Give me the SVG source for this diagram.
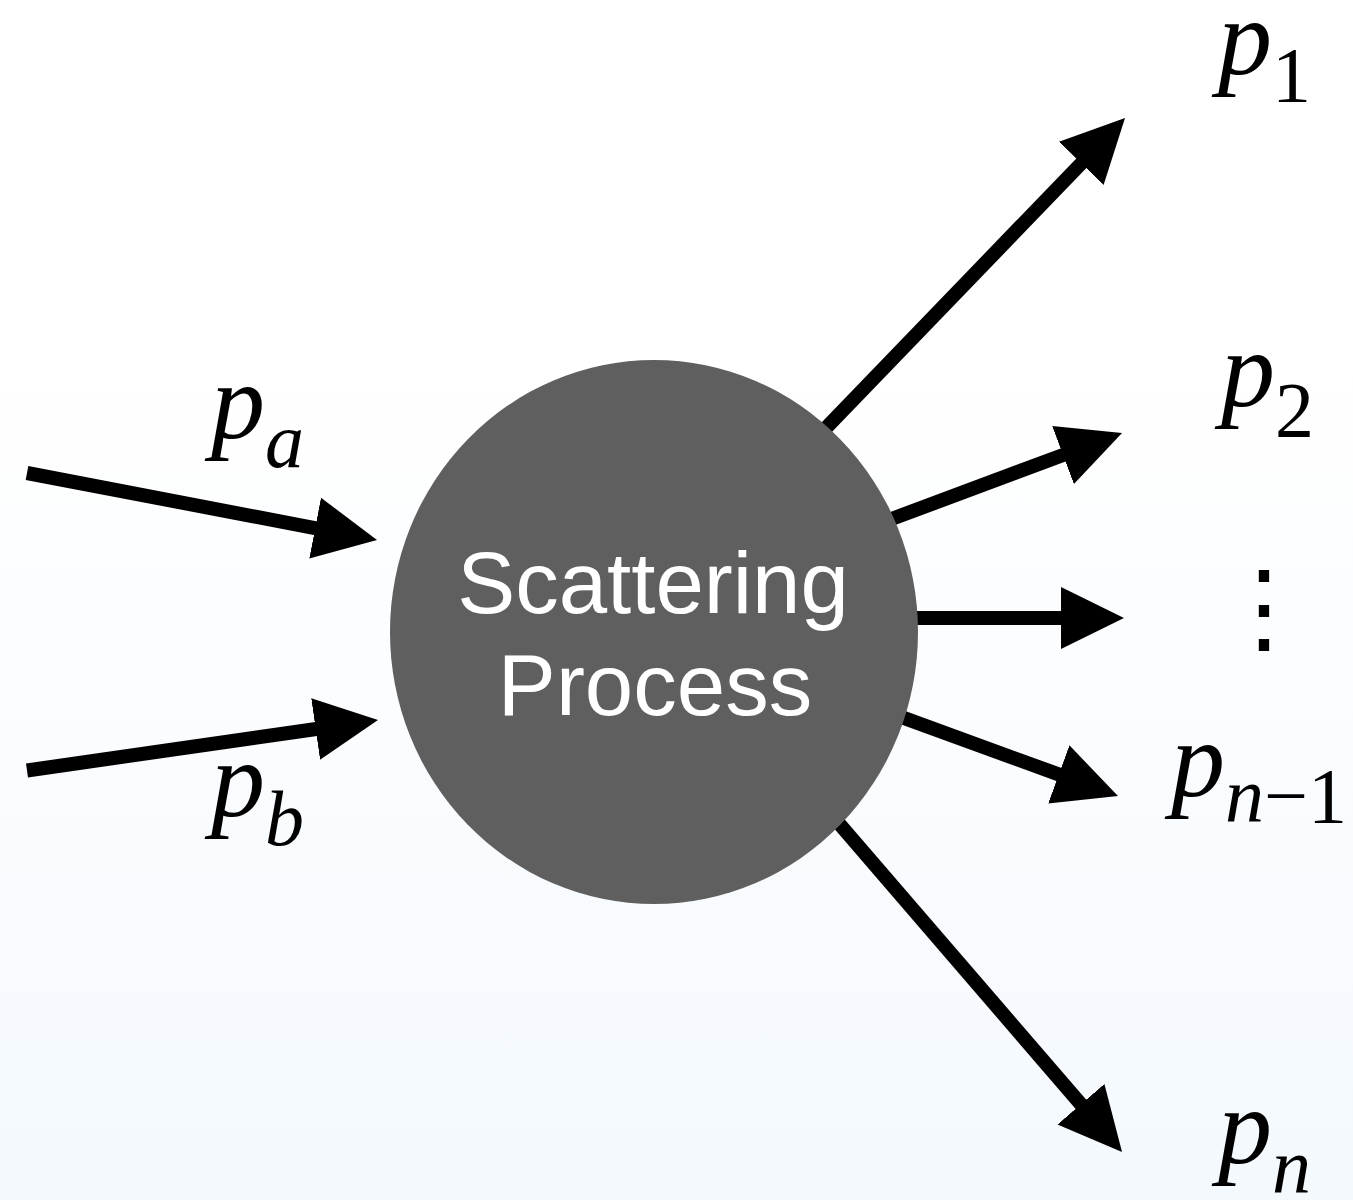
<svg xmlns="http://www.w3.org/2000/svg" width="1353" height="1200" viewBox="0 0 1353 1200">
  <defs>
    <linearGradient id="bg" x1="0" y1="0" x2="0" y2="1">
      <stop offset="0" stop-color="#ffffff"/>
      <stop offset="0.3" stop-color="#ffffff"/>
      <stop offset="1" stop-color="#f4f9fe"/>
    </linearGradient>
    <marker id="head" viewBox="0 0 63 62" refX="13" refY="31" markerWidth="63" markerHeight="62" markerUnits="userSpaceOnUse" orient="auto">
      <path d="M0,0 L63,31 L0,62 Z" fill="#000"/>
    </marker>
    <style>
      .arrow { stroke: #000; stroke-width: 14; fill: none; marker-end: url(#head); }
      .lbl { font-family: "Liberation Serif", "Times New Roman", serif; font-style: italic; font-size: 108px; fill: #000; }
      .sub { font-size: 78px; }
      .num { font-style: normal; }
      .node-text { font-family: "Liberation Sans", Arial, Helvetica, sans-serif; font-size: 87px; fill: #ffffff; text-anchor: middle; }
    </style>
  </defs>
  <rect x="0" y="0" width="1353" height="1200" fill="url(#bg)"/>

  <g id="connectors">
    <line class="arrow" x1="27" y1="473" x2="327.9" y2="530.6"/>
    <line class="arrow" x1="27" y1="770.5" x2="328.5" y2="727.2"/>
    <line class="arrow" x1="808" y1="446.6" x2="1090.3" y2="154"/>
    <line class="arrow" x1="866" y1="528.5" x2="1075.2" y2="450.5"/>
    <line class="arrow" x1="890" y1="618" x2="1074" y2="618"/>
    <line class="arrow" x1="872.8" y1="706.7" x2="1071" y2="778.9"/>
    <line class="arrow" x1="816.4" y1="797.3" x2="1089.4" y2="1114.1"/>
  </g>

  <g id="scattering-process">
    <ellipse cx="654" cy="632" rx="264" ry="272" fill="#5f5f5f"/>
    <text class="node-text" x="653" y="613">Scattering</text>
    <text class="node-text" x="655" y="715">Process</text>
  </g>

  <g id="label-pa">
    <text class="lbl" x="211" y="438">p<tspan class="sub" dy="29">a</tspan></text>
  </g>
  <g id="label-pb">
    <text class="lbl" x="211" y="816">p<tspan class="sub" dy="29">b</tspan></text>
  </g>
  <g id="label-p1">
    <text class="lbl" x="1218" y="74">p<tspan class="sub num" dy="27">1</tspan></text>
  </g>
  <g id="label-p2">
    <text class="lbl" x="1221" y="406">p<tspan class="sub num" dy="30">2</tspan></text>
  </g>
  <g id="label-dots">
    <text x="1264" y="642" font-family="'DejaVu Serif', serif" font-size="100" text-anchor="middle" fill="#000">⋮</text>
  </g>
  <g id="label-pn-1">
    <text class="lbl" x="1171" y="796">p<tspan class="sub" dy="26">n</tspan><tspan class="sub num">−1</tspan></text>
  </g>
  <g id="label-pn">
    <text class="lbl" x="1218" y="1163">p<tspan class="sub" dy="30">n</tspan></text>
  </g>
</svg>
